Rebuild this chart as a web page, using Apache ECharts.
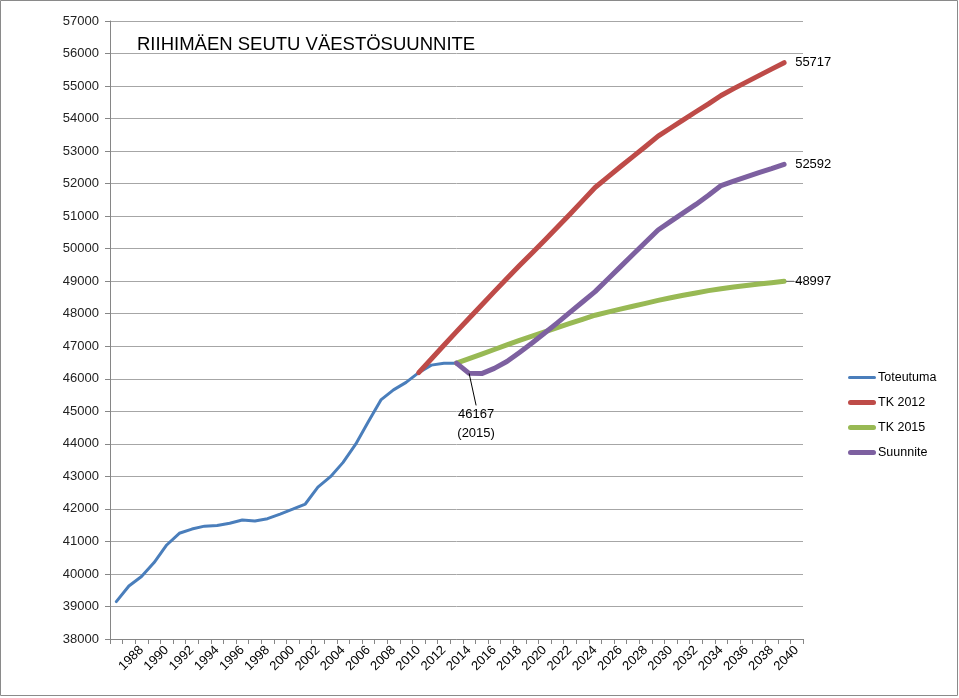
<!DOCTYPE html>
<html>
<head>
<meta charset="utf-8">
<script src="https://cdn.jsdelivr.net/npm/echarts@6/dist/echarts.min.js"></script>
<style>html,body{margin:0;padding:0;background:#fff}#c{width:959px;height:698px}</style>
</head>
<body>
<div id="c"></div>
<script>
// Category labels (years shown on the axis)
var years = [];
for (var y = 1986; y <= 2040; y++) years.push(String(y));

var toteutuma = [39150, 39630, 39920, 40350, 40890, 41250, 41380, 41470, 41490, 41560,
  41660, 41630, 41700, 41840, 41990, 42150, 42670, 42990, 43430, 43990,
  44680, 45350, 45660, 45890, 46190, 46420, 46480, 46480];

var tk2012 = [46190, 46610, 47030, 47450, 47860, 48270, 48680, 49080, 49480, 49870,
  50260, 50660, 51060, 51470, 51880, 52200, 52520, 52830, 53140, 53460,
  53710, 53960, 54210, 54450, 54710, 54920, 55120, 55320, 55520, 55717];

var tk2015 = [46480, 46620, 46760, 46900, 47040, 47180, 47310, 47440, 47570, 47700,
  47830, 47955, 48050, 48140, 48230, 48320, 48410, 48490, 48570, 48640,
  48710, 48770, 48820, 48870, 48915, 48955, 48997];

var suunnite = [46480, 46167, 46160, 46320, 46530, 46810, 47100, 47410, 47720, 48040,
  48360, 48680, 49060, 49440, 49820, 50200, 50575, 50840, 51100, 51360,
  51640, 51940, 52080, 52210, 52340, 52460, 52592];

var seriesNames = ['Toteutuma', 'TK 2012', 'TK 2015', 'Suunnite'];
var colors = ['#4A7EBB', '#BE4B48', '#98B954', '#7D60A0'];
var titleText = 'RIIHIMÄEN SEUTU VÄESTÖSUUNNITE';
var noteText = '46167\n(2015)';

function place(values, startYear) {
  var out = years.map(function () { return null; });
  var s = years.indexOf(String(startYear));
  values.forEach(function (v, i) { out[s + i] = v; });
  return out;
}
function endLabel(arr, rich) {
  var last = -1;
  arr.forEach(function (v, i) { if (v !== null) last = i; });
  return arr.map(function (v, i) {
    if (i !== last) return v;
    return {
      value: v,
      label: rich ? {
        show: true, position: 'right', distance: 2,
        formatter: '{ln|}{t|' + v + '}',
        rich: {
          ln: { width: 8, height: 1, backgroundColor: '#666' },
          t: { fontSize: 13, color: '#000', fontFamily: 'Liberation Sans', padding: [0, 0, 0, 1] }
        }
      } : {
        show: true, position: 'right', distance: 11,
        formatter: String(v), fontSize: 13, color: '#000', fontFamily: 'Liberation Sans'
      }
    };
  });
}

var dBlue = place(toteutuma, 1986);
var dRed = endLabel(place(tk2012, 2010), false);
var dGreen = endLabel(place(tk2015, 2013), true);
var dPurple = endLabel(place(suunnite, 2013), false);
var noteIdx = years.indexOf('2014');
dPurple[noteIdx] = {
  value: dPurple[noteIdx],
  label: {
    show: true, position: 'bottom', distance: 0, formatter: noteText, fontSize: 13, lineHeight: 19,
    color: '#000', fontFamily: 'Liberation Sans', align: 'center'
  },
  labelLine: { show: true, lineStyle: { color: '#000', width: 1 } }
};

function lineSeries(name, data, color, width) {
  return {
    name: name, type: 'line', data: data,
    symbol: 'circle', symbolSize: 0.1, showSymbol: true, showAllSymbol: true,
    connectNulls: false,
    lineStyle: { color: color, width: width, cap: 'round', join: 'round' },
    itemStyle: { color: color },
    label: { show: false },
    emphasis: { disabled: true },
    animation: false, z: 3
  };
}

var chart = echarts.init(document.getElementById('c'));
var sPurple = lineSeries(seriesNames[3], dPurple, colors[3], 5);
sPurple.labelLayout = function (p) {
  if (p.dataIndex === noteIdx) return { dx: 7, dy: 32 };
  return {};
};

function barIcon(h) {
  return 'path://M' + (h / 2) + ',0H' + (28 - h / 2) + 'A' + (h / 2) + ',' + (h / 2) + ' 0 0 1 ' + (28 - h / 2) + ',' + h +
    'H' + (h / 2) + 'A' + (h / 2) + ',' + (h / 2) + ' 0 0 1 ' + (h / 2) + ',0Z';
}

chart.setOption({
  animation: false,
  textStyle: { fontFamily: 'Liberation Sans' },
  grid: { left: 110, right: 156, top: 21, bottom: 59, containLabel: false },
  graphic: [
    { type: 'rect', shape: { x: 0.5, y: 0.5, width: 957, height: 695 }, style: { fill: null, stroke: '#8a8a8a', lineWidth: 1 }, silent: true },
    { type: 'text', left: 137, top: 35, style: { text: titleText, font: '18.5px "Liberation Sans"', fill: '#000' }, silent: true }
  ],
  legend: {
    orient: 'vertical', left: 843, top: 366, itemWidth: 28, itemHeight: 14, itemGap: 12,
    symbolKeepAspect: true,
    data: [
      { name: seriesNames[0], icon: barIcon(3) },
      { name: seriesNames[1], icon: barIcon(5) },
      { name: seriesNames[2], icon: barIcon(5) },
      { name: seriesNames[3], icon: barIcon(5) }
    ],
    textStyle: { fontSize: 12.5, color: '#000', fontFamily: 'Liberation Sans', padding: [0, 0, 0, -3] }
  },
  xAxis: {
    type: 'category', data: years, boundaryGap: true,
    axisLine: { lineStyle: { color: '#868686', width: 1 } },
    axisTick: { show: true, interval: 0, length: 5, lineStyle: { color: '#868686' } },
    axisLabel: {
      rotate: 45, fontSize: 13, color: '#000', margin: 9,
      interval: function (i, v) { return i > 0 && Number(v) % 2 === 0; }
    },
    splitLine: { show: false }
  },
  yAxis: {
    type: 'value', min: 38000, max: 57000, interval: 1000,
    axisLine: { show: true, lineStyle: { color: '#868686', width: 1 } },
    axisTick: { show: true, length: 5, lineStyle: { color: '#868686' } },
    axisLabel: { fontSize: 13, color: '#222', margin: 11, formatter: function (v) { return String(v); } },
    splitLine: { show: true, lineStyle: { color: '#a6a6a6', width: 1 } }
  },
  series: [
    lineSeries(seriesNames[0], dBlue, colors[0], 3),
    lineSeries(seriesNames[1], dRed, colors[1], 5),
    lineSeries(seriesNames[2], dGreen, colors[2], 5),
    sPurple
  ]
});
</script>
</body>
</html>
